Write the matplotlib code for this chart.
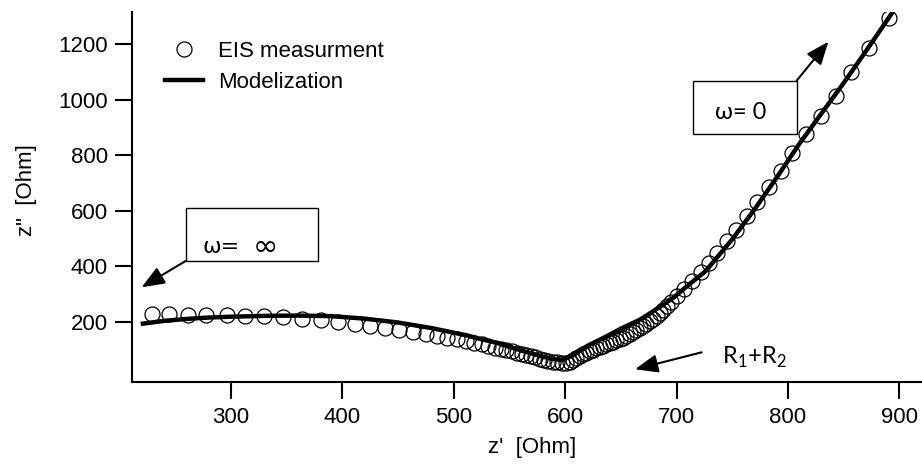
import matplotlib.pyplot as plt
from matplotlib.patches import Rectangle

# EIS measurement points (z' , z'') in Ohm
eis_x = [229, 244, 261, 278, 296, 313, 330, 347, 364, 381, 396, 411, 425, 438, 451,
         463, 475, 485, 494, 503, 511, 518, 525, 531, 537, 542, 547, 552, 557, 561,
         565, 569, 573, 577, 581, 585, 589, 593, 597, 601,
         604, 607, 610, 613, 616, 619, 622, 625, 628, 631, 634, 637, 640, 643, 646,
         649, 652, 655, 658, 661, 664, 667, 670, 673, 676, 679, 682, 685, 688, 691,
         695, 700, 707, 714, 722, 729, 736, 745, 753, 763, 772, 783, 794, 804, 816,
         830, 843, 857, 873, 891]
eis_y = [226, 226, 225, 224, 223, 222, 220, 216, 210, 205, 200, 193, 186, 178, 170,
         163, 156, 149, 142, 136, 130, 124, 118, 112, 107, 102, 97, 93, 88, 84,
         80, 76, 71, 67, 63, 59, 56, 53, 51, 50,
         55, 62, 69, 76, 82, 88, 94, 99, 104, 109, 114, 119, 124, 128, 133,
         138, 143, 149, 155, 162, 169, 176, 184, 192, 201, 210, 220, 231, 243, 256,
         272, 292, 318, 345, 378, 410, 448, 492, 530, 580, 630, 685, 742, 808, 875,
         940, 1015, 1100, 1185, 1294]

# modelization curve
model_x = [221, 240, 260, 280, 300, 330, 360, 390, 420, 450, 480, 510, 540, 560,
           580, 590, 598, 607, 620, 637, 650, 667, 680, 697, 710, 726, 750, 770,
           790, 810, 830, 850, 870, 893]
model_y = [193, 203, 210, 215, 218, 221, 222, 220, 211, 197, 177, 152, 122, 97,
           74, 65, 62, 80, 113, 147, 175, 207, 240, 286, 330, 382, 497, 605,
           720, 840, 950, 1060, 1175, 1310]

x_ticks = [300, 400, 500, 600, 700, 800, 900]
y_ticks = [200, 400, 600, 800, 1000, 1200]

plt.rcParams['font.family'] = ['Liberation Sans', 'DejaVu Sans']

fig = plt.figure(figsize=(9.22, 4.66), dpi=100)
ax = fig.add_axes([131.7/922, (466-381.7)/466, (922-131.7)/922, 370/466])

line, = ax.plot(model_x, model_y, color='black', lw=3.2, zorder=2)
pts, = ax.plot(eis_x, eis_y, 'o', mfc='none', mec='black', ms=10.8, mew=0.9, zorder=3)

ax.set_xlim(210.9, 920.3)
ax.set_ylim(-16.2, 1317)
ax.set_xticks(x_ticks)
ax.set_yticks(y_ticks)
for s in ['top', 'right']:
    ax.spines[s].set_visible(False)
for s in ['left', 'bottom']:
    ax.spines[s].set_linewidth(1.5)
ax.tick_params(direction='out', length=12, width=1.5, labelsize=16, color='black')
ax.tick_params(axis='x', pad=6)
ax.tick_params(axis='y', pad=5)

ax.set_xlabel("z'  [Ohm]", fontsize=16)
ax.set_ylabel('z"  [Ohm]', fontsize=16)
ax.xaxis.label.set_va('center')
ax.xaxis.set_label_coords(0.5065, -0.179)
ax.yaxis.label.set_va('center')
ax.yaxis.set_label_coords(-0.1325, 0.518)

ax.legend([pts, line], ['EIS measurment', 'Modelization'], loc='upper left',
          bbox_to_anchor=(165/922, 425/466), bbox_transform=fig.transFigure,
          frameon=False, fontsize=16, handlelength=1.72, handletextpad=0.68,
          labelspacing=0.45, borderpad=0, borderaxespad=0)

arrow = dict(arrowstyle='-|>,head_length=0.5,head_width=0.2', color='black',
             lw=1.5, mutation_scale=28, shrinkA=0, shrinkB=0)

# omega = infinity box
ax.add_patch(Rectangle((259.3, 418.7), 378.4-259.3, 608.6-418.7, fill=False,
                       ec='black', lw=1.0, zorder=4))
ax.text(291.0, 469, 'ω=', ha='center', va='center', fontsize=16,
        family=['DejaVu Sans'])
ax.text(331.0, 466, '∞', ha='center', va='center', fontsize=22,
        family=['DejaVu Sans'])
ax.annotate('', xy=(219.8, 324), xytext=(259.3, 418.7), arrowprops=arrow)

# omega = 0 box
ax.add_patch(Rectangle((714.5, 876.4), 807.8-714.5, 1068.5-876.4, fill=False,
                       ec='black', lw=1.0, zorder=4))
ax.text(757.8, 952, 'ω= 0', ha='center', va='center', fontsize=17,
        family=['Lato', 'DejaVu Sans'])
ax.annotate('', xy=(836.3, 1209), xytext=(807.8, 1068.5), arrowprops=arrow)

# R1+R2
ax.text(740.5, 50, r'R$_\mathregular{1}$+R$_\mathregular{2}$', ha='left', va='baseline',
        fontsize=17, family=['Lato', 'DejaVu Sans'])
ax.annotate('', xy=(662.7, 28.5), xytext=(722.5, 89.7), arrowprops=arrow)

fig.savefig('out.png', dpi=100)
